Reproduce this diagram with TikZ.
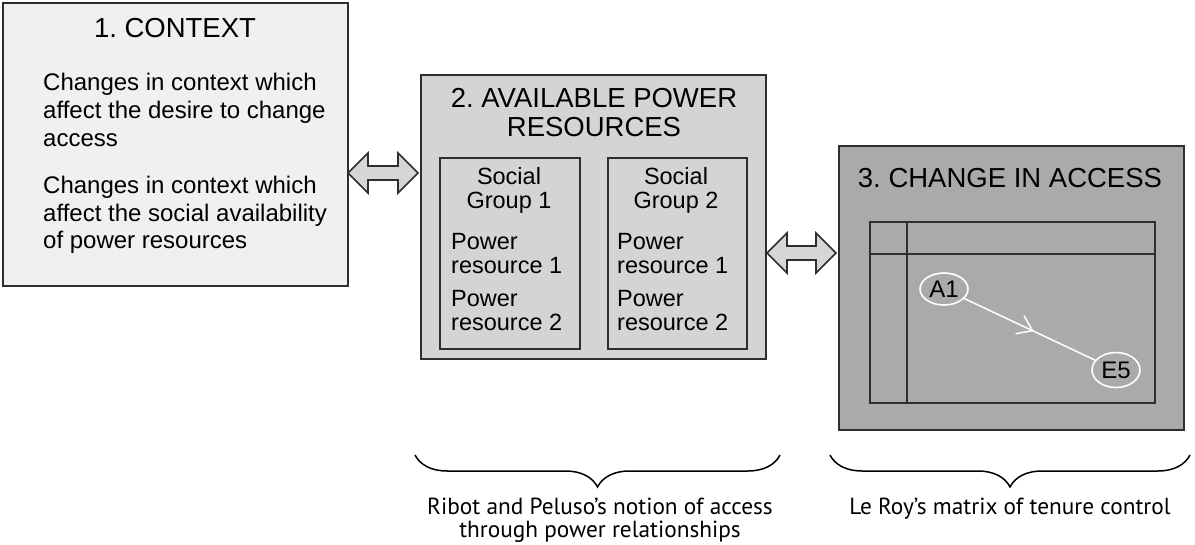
\documentclass[tikz,border=0pt]{standalone}
\usepackage{fontspec}
\setmainfont{Liberation Sans}
\newfontfamily\capfont{PT Sans}
\usetikzlibrary{shapes.geometric,decorations.pathreplacing,decorations.markings,arrows.meta,calc}
\definecolor{fillA}{HTML}{F0F0F0}
\definecolor{fillB}{HTML}{D4D4D4}
\definecolor{fillC}{HTML}{A9AAAC}
\definecolor{edge}{HTML}{2E2E2E}
\definecolor{arrfill}{HTML}{D6D6D6}
\newcommand\dblarr[2]{\draw[dblarrow] (#1) -- ++(20,-20) -- ++(0,13) -- ($(#2)+(-20,-7)$) -- ++(0,-13) -- (#2) -- ++(-20,20) -- ++(0,-13) -- ($(#1)+(20,7)$) -- ++(0,13) -- cycle;}
\frenchspacing
\begin{document}
\frenchspacing
\begin{tikzpicture}[x=1pt,y=-1pt,
  box/.style={draw=edge, line width=2pt, inner sep=0pt, anchor=north west},
  titletext/.style={font=\frenchspacing\fontsize{27.5}{30}\selectfont, anchor=base, inner sep=0pt},
  bodytext/.style={font=\fontsize{24}{28}\selectfont, anchor=base west, inner sep=0pt},
  grouptext/.style={font=\fontsize{23.5}{24}\selectfont, inner sep=0pt},
  capttext/.style={font=\capfont\fontsize{23.3}{25}\selectfont, anchor=base, inner sep=0pt},
  cell/.style={ellipse, draw=white, line width=1.6pt, minimum width=48pt, inner sep=0pt, font=\fontsize{24}{24}\selectfont},
  dblarrow/.style={draw=edge, fill=arrfill, line width=1.6pt, line join=miter},
  bracestyle/.style={draw=black, line width=1.5pt, decorate, decoration={brace, mirror, amplitude=32pt}},
  ]
\useasboundingbox (0,0) rectangle (1195,545);
% Box 1
\node[box, fill=fillA, minimum width=345pt, minimum height=283pt] (box1) at (2,2) {};
\node[titletext] (t1) at (175,38) {1. CONTEXT};
\foreach \i/\y/\t in {1/91/Changes in context which, 2/119/affect the desire to change, 3/147/access, 4/194/Changes in context which, 5/222/affect the social availability, 6/249/of power resources}
  \node[bodytext] (c\i) at (43,\y) {\t};
% Box 2
\node[box, fill=fillB, minimum width=345pt, minimum height=284pt] (box2) at (420,74) {};
\node[titletext] (t2a) at (594,108) {2. AVAILABLE POWER};
\node[titletext] (t2b) at (594,137) {RESOURCES};
\node[box, fill=fillB, minimum width=140pt, minimum height=191pt] (sg1) at (439,157) {};
\node[box, fill=fillB, minimum width=139pt, minimum height=191pt] (sg2) at (607,157) {};
\node[grouptext, anchor=base] (g1a) at (509,185) {Social};
\node[grouptext, anchor=base] (g1b) at (509,209) {Group 1};
\node[grouptext, anchor=base west] (g1c) at (451,250) {Power};
\node[grouptext, anchor=base west] (g1d) at (451,274) {resource 1};
\node[grouptext, anchor=base west] (g1e) at (451,307) {Power};
\node[grouptext, anchor=base west] (g1f) at (451,331) {resource 2};
\node[grouptext, anchor=base] (g2a) at (676,185) {Social};
\node[grouptext, anchor=base] (g2b) at (676,209) {Group 2};
\node[grouptext, anchor=base west] (g2c) at (617,250) {Power};
\node[grouptext, anchor=base west] (g2d) at (617,274) {resource 1};
\node[grouptext, anchor=base west] (g2e) at (617,307) {Power};
\node[grouptext, anchor=base west] (g2f) at (617,331) {resource 2};
% Box 3
\node[box, fill=fillC, minimum width=345pt, minimum height=284pt] (box3) at (838,145) {};
\node[titletext] (t3) at (1010,188) {3. CHANGE IN ACCESS};
\node[box, minimum width=285pt, minimum height=181pt] (mat) at (869,221) {};
\draw[draw=edge, line width=2pt] (mat.west |- 0,254) -- (mat.east |- 0,254);
\draw[draw=edge, line width=2pt] (907,0 |- mat.north) -- (907,0 |- mat.south);
\node[cell, minimum height=32pt] (a1) at (944,289) {A1};
\node[cell, minimum height=35pt] (e5) at (1116,370) {E5};
\draw[draw=white, line width=1.5pt, decoration={markings, mark=at position 0.53 with {\arrow{Straight Barb[length=14pt,width=20pt,line width=1.5pt]}}}, postaction={decorate}] (a1) -- (e5);
% double arrows
\coordinate (p1l) at (348,173);
\coordinate (p1r) at (418,173);
\coordinate (p2l) at (767,253);
\coordinate (p2r) at (836,253);
\dblarr{p1l}{p1r}
\dblarr{p2l}{p2r}
% braces
\coordinate (b1s) at (415,455);
\coordinate (b1e) at (780,455);
\coordinate (b2s) at (830,455);
\coordinate (b2e) at (1190,455);
\draw[bracestyle] (b1s) -- (b1e);
\draw[bracestyle] (b2s) -- (b2e);
\node[capttext] (cap1a) at (600,514) {Ribot and Peluso’s notion of access};
\node[capttext] (cap1b) at (600,537) {through power relationships};
\node[capttext] (cap2) at (1010,514) {Le Roy’s matrix of tenure control};
\end{tikzpicture}
\end{document}
